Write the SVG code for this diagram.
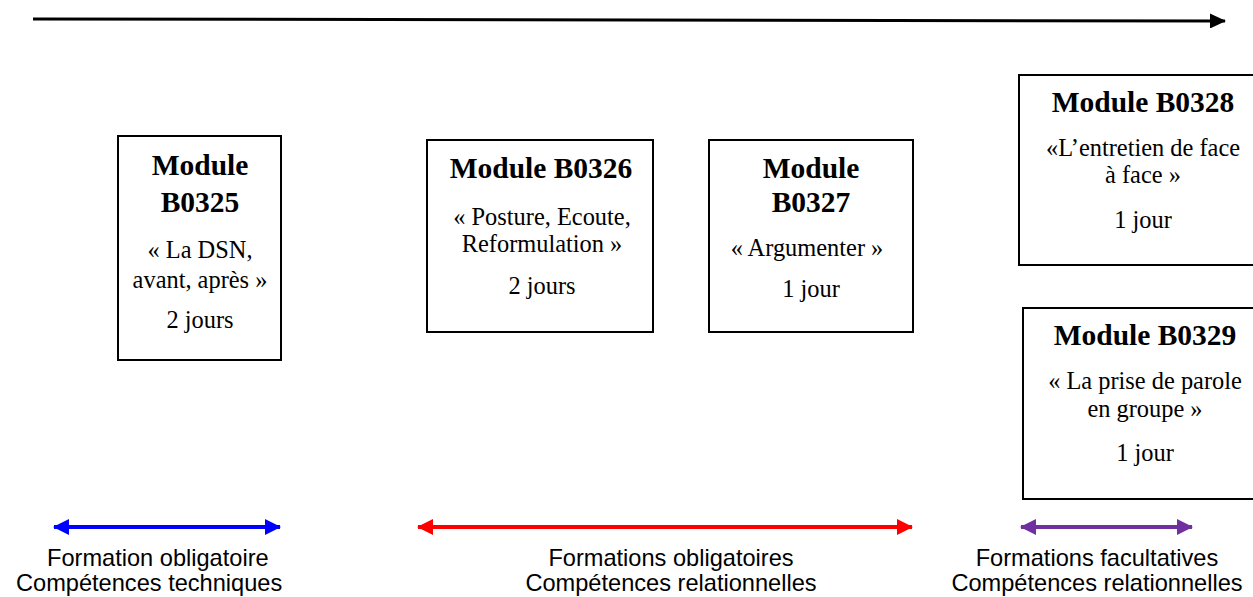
<svg xmlns="http://www.w3.org/2000/svg" width="1253" height="597" viewBox="0 0 1253 597">
<style>
.box{fill:#fff;stroke:#000;stroke-width:2}
.t{font-family:"Liberation Serif","Times New Roman",serif;fill:#000;text-anchor:middle}
.b{font-size:29.5px;font-weight:bold}
.r{font-size:24.4px}
.lab{font-family:"Liberation Sans",Arial,sans-serif;font-size:23.6px;fill:#000}
</style>
<defs>
<marker id="ah" markerWidth="16" markerHeight="15" refX="15" refY="7.5" orient="auto" markerUnits="userSpaceOnUse"><path d="M0,0 L16,7.5 L0,15 Z" fill="#000"/></marker>
<marker id="bE" markerWidth="16" markerHeight="16" refX="15" refY="8" orient="auto-start-reverse" markerUnits="userSpaceOnUse"><path d="M0,0 L16,8 L0,16 Z" fill="#0000FF"/></marker>
<marker id="rE" markerWidth="16" markerHeight="16" refX="15" refY="8" orient="auto-start-reverse" markerUnits="userSpaceOnUse"><path d="M0,0 L16,8 L0,16 Z" fill="#FF0000"/></marker>
<marker id="pE" markerWidth="16" markerHeight="16" refX="15" refY="8" orient="auto-start-reverse" markerUnits="userSpaceOnUse"><path d="M0,0 L16,8 L0,16 Z" fill="#7030A0"/></marker>
</defs>
<g id="connectors">
<line x1="33" y1="19" x2="1225" y2="21" stroke="#000" stroke-width="3" marker-end="url(#ah)"/>
<line x1="54" y1="527" x2="280" y2="527" stroke="#0000FF" stroke-width="4" marker-start="url(#bE)" marker-end="url(#bE)"/>
<line x1="418" y1="527" x2="912" y2="527" stroke="#FF0000" stroke-width="4" marker-start="url(#rE)" marker-end="url(#rE)"/>
<line x1="1021" y1="527" x2="1192" y2="527" stroke="#7030A0" stroke-width="4" marker-start="url(#pE)" marker-end="url(#pE)"/>
</g>
<g id="b0325">
<rect class="box" x="118" y="136" width="163" height="224"/>
<text class="t b" x="200" y="175">Module</text>
<text class="t b" x="200" y="212">B0325</text>
<text class="t r" x="200" y="258">« La DSN,</text>
<text class="t r" x="200" y="288">avant, après »</text>
<text class="t r" x="200" y="328">2 jours</text>
</g>
<g id="b0326">
<rect class="box" x="427" y="140" width="226" height="192"/>
<text class="t b" x="541" y="178">Module B0326</text>
<text class="t r" x="542" y="225">« Posture, Ecoute,</text>
<text class="t r" x="542" y="252">Reformulation »</text>
<text class="t r" x="542" y="294">2 jours</text>
</g>
<g id="b0327">
<rect class="box" x="709" y="140" width="204" height="192"/>
<text class="t b" x="811" y="178">Module</text>
<text class="t b" x="811" y="212">B0327</text>
<text class="t r" x="807" y="256">« Argumenter »</text>
<text class="t r" x="811" y="297">1 jour</text>
</g>
<g id="b0328">
<rect class="box" x="1019" y="75" width="260" height="190"/>
<text class="t b" x="1143" y="112">Module B0328</text>
<text class="t r" x="1143" y="156">«L’entretien de face</text>
<text class="t r" x="1143" y="183">à face »</text>
<text class="t r" x="1143" y="228">1 jour</text>
</g>
<g id="b0329">
<rect class="box" x="1023" y="308" width="260" height="191"/>
<text class="t b" x="1145" y="345">Module B0329</text>
<text class="t r" x="1145" y="389">« La prise de parole</text>
<text class="t r" x="1145" y="417">en groupe »</text>
<text class="t r" x="1145" y="461">1 jour</text>
</g>
<g id="labels">
<text class="lab" x="47" y="566">Formation obligatoire</text>
<text class="lab" x="16" y="591">Compétences techniques</text>
<text class="lab" x="671" y="566" text-anchor="middle">Formations obligatoires</text>
<text class="lab" x="671" y="591" text-anchor="middle">Compétences relationnelles</text>
<text class="lab" x="1097" y="566" text-anchor="middle">Formations facultatives</text>
<text class="lab" x="1097" y="591" text-anchor="middle">Compétences relationnelles</text>
</g>
</svg>
